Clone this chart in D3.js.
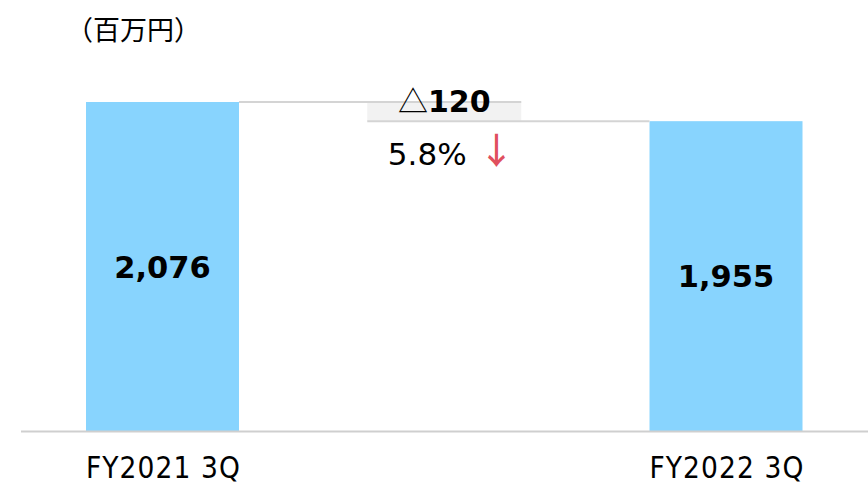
<!DOCTYPE html>
<html><head><meta charset="utf-8">
<script src="https://cdn.jsdelivr.net/npm/d3@7"></script>
<style>body{margin:0;background:#fff;}svg{display:block;}</style>
</head><body>
<script>
const categories = ["FY2021 3Q", "", "FY2022 3Q"];
const values = [2076, null, 1955];
const valueLabels = ["2,076", "", "1,955"];
const unitLabel = "（百万円）";
const diffLabel = "120";
const diffMark = "△";
const pctLabel = "5.8%";
const arrowLabel = "↓";

const W = 868, H = 486;
const svg = d3.select("body").append("svg").attr("width", W).attr("height", H);

const x = d3.scaleBand().domain(categories.map((c,i)=>i)).range([86, 802.5]).paddingInner(0.457).paddingOuter(0);
const y = d3.scaleLinear().domain([0, 2076]).range([431, 102]);

const barColor = "#88d4fe";
const lineColor = "#d4d4d4";

// bars
const barData = values.map((v,i)=>({v,i})).filter(d=>d.v!=null);
svg.selectAll("rect.bar").data(barData).enter().append("rect")
  .attr("class","bar")
  .attr("x", d=>x(d.i)).attr("width", x.bandwidth())
  .attr("y", d=>y(d.v)).attr("height", d=>y(0)-y(d.v))
  .attr("fill", barColor);

// middle box
const midX = x(1), midW = x.bandwidth();
const boxX0 = midX + midW/2 - 77, boxX1 = midX + midW/2 + 77;
svg.append("rect").attr("x", boxX0).attr("width", boxX1-boxX0)
  .attr("y", y(values[0])).attr("height", y(values[2]) - y(values[0]))
  .attr("fill", "#f2f2f2");
// connectors
svg.append("line").attr("x1", x(0)+x.bandwidth()).attr("x2", boxX1)
  .attr("y1", y(values[0])).attr("y2", y(values[0]))
  .attr("stroke", lineColor).attr("stroke-width", 2);
svg.append("line").attr("x1", boxX0).attr("x2", x(2))
  .attr("y1", y(values[2])).attr("y2", y(values[2]))
  .attr("stroke", lineColor).attr("stroke-width", 2);

// axis baseline
svg.append("line").attr("x1", 21).attr("x2", 868).attr("y1", y(0)+0.5).attr("y2", y(0)+0.5)
  .attr("stroke", "#cfcfcf").attr("stroke-width", 2);

// value labels
svg.selectAll("text.val").data(barData).enter().append("text")
  .attr("x", d=>x(d.i)+x.bandwidth()/2)
  .attr("y", d=>(y(d.v)+y(0))/2 + 11)
  .attr("text-anchor","middle")
  .attr("font-family","DejaVu Sans, Verdana, sans-serif")
  .attr("font-weight","bold").attr("font-size", 30.5).attr("fill","#000")
  .text(d=>valueLabels[d.i]);

// category labels
svg.selectAll("text.cat").data(barData).enter().append("text")
  .attr("x", d=>x(d.i)+x.bandwidth()/2 + 1)
  .attr("y", 478)
  .attr("text-anchor","middle")
  .attr("font-family","DejaVu Sans Condensed, DejaVu Sans, sans-serif")
  .attr("font-stretch","condensed")
  .attr("letter-spacing", 1.1)
  .attr("font-size", 29.5).attr("fill","#000")
  .text(d=>categories[d.i]);

// diff label
const cx = midX + midW/2;
const t1 = svg.append("text").attr("x", cx).attr("y", 112).attr("text-anchor","middle")
  .attr("font-size", 30).attr("fill","#000");
t1.append("tspan").attr("font-family","Noto Sans CJK JP, sans-serif").text(diffMark);
t1.append("tspan").attr("font-family","DejaVu Sans, sans-serif").attr("font-weight","bold").text(diffLabel);

svg.append("text").attr("x", cx-17).attr("y", 165).attr("text-anchor","middle")
  .attr("font-family","DejaVu Sans, sans-serif").attr("font-size", 31).attr("fill","#000")
  .text(pctLabel);
svg.append("text").attr("x", 496.5).attr("y", 164).attr("text-anchor","middle")
  .attr("font-family","Noto Sans CJK JP, sans-serif").attr("font-weight", 500).attr("font-size", 36).attr("fill","#e0505e")
  .text(arrowLabel);

// unit label
svg.append("text").attr("x", 66).attr("y", 40)
  .attr("font-family","Noto Sans CJK JP, sans-serif").attr("font-size", 27).attr("fill","#000")
  .text(unitLabel);
</script>
</body></html>
